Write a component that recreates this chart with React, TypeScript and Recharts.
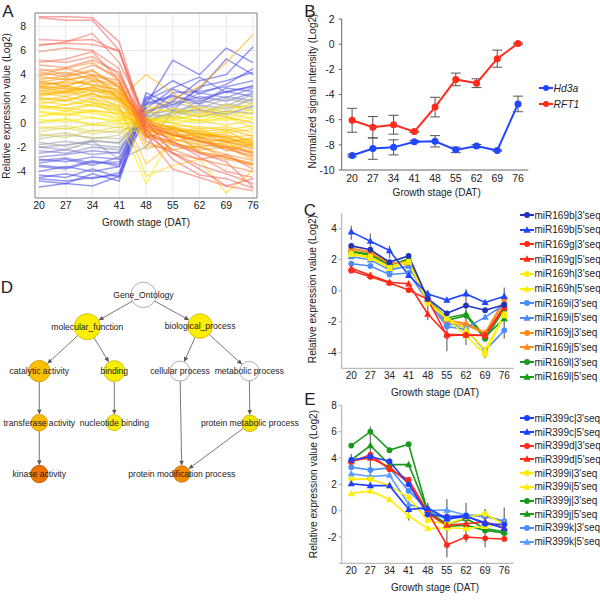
import React from 'react';
import {
  LineChart, Line, XAxis, YAxis, CartesianGrid, ErrorBar,
  ScatterChart, Scatter, ReferenceLine,
} from 'recharts';

const FONT = '"Liberation Sans", Arial, Helvetica, sans-serif';

// ---------- shared categories ----------
const DAT = ['20', '27', '34', '41', '48', '55', '62', '69', '76'];

// ---------- Panel A: expression profiles (Log2) ----------
const profilesA: number[][] = [
  [8.8, 8.8, 8.7, 6.7, -0.5, -3.0, -4.3, -4.6, -5.4],
  [8.7, 8.5, 8.5, 6.0, -1.0, -2.5, -3.8, -5.2, -4.6],
  [6.9, 6.8, 6.9, 5.9, 0.2, -2.5, -3.5, -4.2, -5.0],
  [6.5, 6.6, 6.5, 6.0, -0.3, -1.5, -2.8, -4.0, -4.5],
  [6.4, 6.7, 7.4, 5.0, 0.5, -1.8, -2.5, -3.2, -5.3],
  [5.9, 6.2, 6.0, 4.5, -1.0, -3.8, -4.5, -5.2, -5.6],
  [5.2, 5.0, 5.5, 4.0, 0.0, -1.0, -1.5, -2.0, -2.5],
  [5.0, 5.3, 5.9, 3.5, -0.6, -2.2, -3.0, -2.6, -3.8],
  [4.8, 4.6, 5.2, 4.2, -0.8, -1.6, -2.4, -2.8, -3.4],
  [4.5, 4.0, 4.8, 3.8, -0.2, -1.0, -1.5, -2.2, -2.7],
  [4.3, 4.5, 4.0, 3.5, -1.5, -2.5, -3.0, -3.5, -4.0],
  [4.2, 3.8, 4.3, 3.0, 0.1, -0.8, -1.2, -1.5, -2.2],
  [4.0, 4.5, 5.0, 3.5, -1.2, -0.5, -2.5, -3.0, -3.5],
  [3.9, 4.2, 3.6, 3.2, -0.9, -1.8, -2.0, -2.6, -3.1],
  [3.8, 3.6, 3.9, 3.3, -0.5, -1.3, -1.8, -2.0, -3.0],
  [3.6, 3.9, 4.4, 2.9, -0.3, -0.9, -1.4, -1.9, -2.4],
  [3.5, 3.0, 3.8, 2.5, 0.3, -0.5, -0.9, -1.2, -1.8],
  [3.4, 3.7, 3.1, 2.7, -1.0, -1.6, -2.2, -2.0, -2.8],
  [3.3, 3.2, 3.5, 3.0, -0.2, -1.1, -0.8, -1.6, -1.3],
  [3.2, 3.4, 3.2, 2.8, -0.3, -1.0, -1.3, -1.6, -1.9],
  [3.1, 2.8, 2.9, 2.4, -1.8, -2.2, -1.9, -2.9, -3.3],
  [3.0, 2.5, 3.5, 2.0, 0.0, -0.6, -1.0, -1.0, -1.5],
  [2.9, 3.1, 2.6, 2.6, -0.7, -0.4, -1.2, -1.1, -2.0],
  [2.8, 3.0, 2.7, 2.2, -0.4, -0.9, -1.5, -1.8, -2.4],
  [2.7, 2.4, 3.0, 2.3, -1.2, -1.5, -1.1, -2.3, -1.7],
  [2.6, 2.9, 2.4, 1.9, -0.1, -0.3, -0.7, -0.5, -1.1],
  [2.5, 2.2, 2.8, 1.8, 0.2, -0.4, -0.8, -1.2, -1.0],
  [2.4, 2.7, 2.2, 2.1, -2.2, -1.3, -2.0, -1.6, -2.6],
  [2.2, 2.6, 2.0, 1.5, -0.1, -0.7, -0.6, -1.4, -1.6],
  [2.1, 1.9, 2.4, 1.7, -0.6, -1.0, -1.7, -1.3, -2.1],
  [2.0, 1.8, 2.5, 1.2, -0.8, -0.3, -1.2, -0.8, -0.5],
  [1.9, 2.2, 1.7, 1.4, -3.4, -1.6, -2.4, -2.8, -3.5],
  [1.8, 1.5, 2.0, 1.0, 0.3, 0.0, -0.5, -0.3, -0.8],
  [1.6, 1.9, 1.4, 1.1, -1.1, -0.8, -0.4, -1.5, -1.2],
  [1.5, 1.2, 1.0, 0.8, -0.3, -0.2, -0.3, -0.6, -0.2],
  [1.3, 1.0, 1.5, 0.9, 0.8, 1.2, 0.6, 1.5, 1.0],
  [1.2, 1.5, 1.8, 0.5, 0.2, 0.5, 0.2, -0.2, 0.3],
  [1.0, 0.7, 1.1, 0.7, -0.6, -1.2, -0.9, -0.7, -1.6],
  [0.9, 0.6, 1.0, 0.4, -0.5, 0.3, 0.0, 0.5, -0.4],
  [0.6, 0.8, 0.4, 0.2, 0.4, 0.0, 0.3, 0.2, 0.5],
  [0.5, 1.0, 0.8, 0.3, -5.0, -1.0, -1.5, -2.0, -1.5],
  [0.3, 0.1, 0.5, 0.0, -0.2, 0.4, 0.6, 0.3, 0.9],
  [0.1, 0.4, -0.1, 0.2, 1.4, 0.9, 1.3, 0.8, 1.7],
  [0.0, 0.3, -0.2, -0.1, 0.1, 0.6, 0.2, 0.8, 0.4],
  [-0.3, -0.5, -0.1, -0.4, 0.5, 0.2, 0.8, 0.5, 1.2],
  [-0.5, -0.2, -0.7, -0.3, -0.9, -0.4, -1.1, -0.6, -1.8],
  [2.3, 2.6, 3.0, 2.0, 4.0, 2.5, 1.0, 0.5, 0.0],
  [3.0, 3.5, 4.0, 2.0, 1.0, 2.0, 3.0, 5.0, 7.3],
  [1.4, 1.2, 1.6, 1.3, -4.4, -3.5, -3.0, -5.8, -3.9],
  [-0.7, -0.4, -0.9, -0.6, -0.1, 0.9, 0.5, 1.0, 0.7],
  [-0.9, -1.2, -0.6, -0.8, 0.2, 0.8, 1.0, 1.2, 1.5],
  [-1.1, -0.8, -1.3, -1.0, 1.0, 0.4, 1.4, 0.9, 2.1],
  [-1.3, -1.0, -1.2, -1.3, 0.5, 1.2, 0.8, 1.6, 1.2],
  [-1.6, -1.9, -1.4, -1.7, 0.9, 1.7, 1.2, 2.0, 1.6],
  [-1.8, -1.5, -1.8, -2.0, 0.6, 0.6, 1.9, 1.4, 2.4],
  [-2.0, -1.8, -1.5, -1.6, 0.8, 1.0, 1.5, 1.2, 2.0],
  [-2.0, -2.2, -1.5, -3.0, -2.0, 1.0, 0.5, 1.0, 0.8],
  [-2.3, -2.5, -2.0, -2.2, 0.3, 1.8, 1.6, 2.2, 1.8],
  [-2.5, -2.2, -2.6, -2.4, 1.8, 1.3, 2.5, 2.1, 2.9],
  [-2.8, -2.6, -2.3, -2.5, 1.0, 1.5, 2.2, 1.8, 2.5],
  [-3.0, -3.2, -2.8, -3.0, 1.5, 2.2, 1.8, 2.6, 2.2],
  [-3.1, -2.9, -3.3, -3.2, 0.2, 0.9, 1.1, 0.7, 1.4],
  [-3.3, -3.0, -3.5, -2.8, 0.6, 2.5, 2.6, 3.0, 3.5],
  [-3.5, -3.7, -3.1, -3.6, 1.9, 2.9, 3.8, 2.5, 3.1],
  [-3.6, -3.8, -3.2, -3.4, 2.2, 1.0, 3.0, 3.5, 4.2],
  [-4.0, -3.6, -4.0, -3.6, 1.2, 2.8, 2.0, 2.6, 3.0],
  [-4.3, -4.5, -3.8, -4.5, 0.8, 1.8, 3.5, 4.0, 6.3],
  [-4.5, -4.2, -4.6, -4.1, 1.6, 2.3, 1.6, 2.9, 2.6],
  [-4.6, -4.8, -4.5, -4.3, 2.5, 1.5, 2.8, 5.3, 4.0],
  [-4.8, -5.0, -4.2, -4.8, 2.0, 3.5, 2.4, 3.2, 4.5],
  [-5.3, -5.0, -5.2, -4.4, 1.5, 5.2, 4.0, 6.2, 5.0],
];
const ticksA = [-4, -2, 0, 2, 4, 6, 8];

// ---------- Panel B ----------
const hd3a = [-8.85, -8.3, -8.2, -7.75, -7.72, -8.4, -8.1, -8.45, -4.75];
const hd3aErr = [0.1, 0.85, 0.6, 0.08, 0.45, 0.22, 0.12, 0.05, 0.62];
const rft1 = [-6.05, -6.6, -6.4, -6.95, -5.0, -2.8, -3.1, -1.15, 0.05];
const rft1Err = [0.95, 0.85, 0.75, 0.05, 0.78, 0.5, 0.35, 0.68, 0.05];
const ticksB = [-10, -8, -6, -4, -2, 0, 2];

// ---------- Panel C ----------
const miR169b3 = [2.9, 2.65, 1.85, 2.25, -0.5, -1.45, -0.95, -1.25, -0.9];
const miR169b5 = [3.8, 3.2, 2.6, 1.0, -0.2, -0.6, -0.2, -0.75, -0.35];
const miR169g3 = [1.3, 0.9, 0.5, 0.05, -0.55, -2.9, -2.85, -2.85, -1.0];
const miR169g5 = [1.45, 1.0, 0.55, 0.45, -1.5, -2.8, -2.85, -2.9, -1.1];
const miR169h3 = [2.4, 2.2, 1.5, 1.9, -0.8, -1.8, -2.9, -4.1, -1.5];
const miR169h5 = [2.35, 2.1, 1.45, 1.85, -0.7, -1.75, -2.5, -3.8, -1.6];
const miR169i3 = [1.75, 1.6, 1.05, 1.15, -0.7, -2.3, -2.5, -3.85, -2.55];
const miR169i5 = [2.2, 2.0, 1.35, 1.6, -0.5, -2.1, -2.4, -1.7, -0.9];
const miR169j3 = [2.75, 2.5, 1.8, 1.7, -0.6, -2.1, -2.2, -2.75, -0.55];
const miR169j5 = [2.7, 2.45, 1.75, 1.9, -0.55, -1.9, -2.1, -2.7, -0.7];
const miR169l3 = [2.55, 2.35, 1.7, 2.0, -0.6, -1.9, -1.6, -3.1, -1.2];
const miR169l5 = [2.5, 2.3, 1.65, 2.05, -0.55, -1.75, -1.5, -2.95, -1.8];
const errMidC = [3.75, 3.2, 2.5, 1.9, -0.93, -2.9, -1.7, -4.1, -1.43];
const errC = [0.45, 0.5, 0.4, 0.3, 0.97, 1.0, 1.8, 0.25, 1.65];
const ticksC = [-4, -2, 0, 2, 4];

// ---------- Panel E ----------
const miR399c3 = [3.85, 4.1, 3.75, 2.0, -0.3, -0.45, -0.4, -1.0, -1.05];
const miR399c5 = [2.05, 1.9, 1.9, 0.1, 0.2, -0.6, -0.45, -0.9, -1.35];
const miR399d3 = [3.7, 4.25, 3.15, 2.35, -0.1, -2.6, -2.0, -2.1, -2.15];
const miR399d5 = [3.8, 4.0, 3.3, 2.1, -0.2, -1.1, -1.0, -0.85, -1.3];
const miR399i3 = [2.4, 2.4, 1.9, 1.0, -0.75, -1.05, -0.5, -0.25, -1.05];
const miR399i5 = [1.3, 1.5, 0.85, -0.4, -1.35, -1.3, -1.35, -1.2, -1.0];
const miR399j3 = [4.95, 6.0, 4.6, 5.05, -0.1, -1.2, -1.1, -1.5, -1.7];
const miR399j5 = [3.85, 4.95, 3.5, 3.5, 0.0, -1.05, -0.6, -1.35, -1.6];
const miR399k3 = [3.3, 3.1, 3.25, 1.5, 0.1, -0.7, -0.35, -0.45, -0.8];
const miR399k5 = [2.8, 2.6, 2.7, 0.5, 0.0, 0.05, -0.35, -0.35, -0.85];
const errMidE = [3.9, 3.85, 3.7, -0.25, 0.05, -1.33, -0.9, -1.33, -0.9];
const errE = [0.4, 2.55, 0.3, 0.5, 0.55, 2.22, 1.5, 1.45, 1.15];
const ticksE = [-4, -2, 0, 2, 4, 6, 8];

// ---------- Panel D: GO graph (layout units) ----------
const goNodes = [
  { name: 'Gene_Ontology', x: 47.8, y: 8.3 },
  { name: 'molecular_function', x: 29.1, y: 18.9 },
  { name: 'biological_process', x: 66.7, y: 18.7 },
  { name: 'catalytic activity', x: 13.1, y: 33.7 },
  { name: 'binding', x: 38.1, y: 33.7 },
  { name: 'cellular process', x: 60.0, y: 33.7 },
  { name: 'metabolic process', x: 83.1, y: 33.7 },
  { name: 'transferase activity', x: 13.1, y: 50.9 },
  { name: 'nucleotide binding', x: 38.1, y: 50.9 },
  { name: 'protein metabolic process', x: 83.3, y: 51.1 },
  { name: 'kinase activity', x: 13.1, y: 68.0 },
  { name: 'protein modification process', x: 60.6, y: 68.0 },
];
const goEdges: [string, string][] = [
  ['Gene_Ontology', 'molecular_function'],
  ['Gene_Ontology', 'biological_process'],
  ['molecular_function', 'catalytic activity'],
  ['molecular_function', 'binding'],
  ['biological_process', 'cellular process'],
  ['biological_process', 'metabolic process'],
  ['catalytic activity', 'transferase activity'],
  ['binding', 'nucleotide binding'],
  ['transferase activity', 'kinase activity'],
  ['metabolic process', 'protein metabolic process'],
  ['cellular process', 'protein modification process'],
  ['protein metabolic process', 'protein modification process'],
];

// ---------- styles ----------
const nodeStyle: Record<string, { r: number; fill: string; stroke: string }> = {
  'Gene_Ontology': { r: 12.7, fill: '#ffffff', stroke: '#999' },
  'molecular_function': { r: 13, fill: '#fbee00', stroke: '#c9b800' },
  'biological_process': { r: 12.3, fill: '#fbee00', stroke: '#c9b800' },
  'catalytic activity': { r: 10.7, fill: '#fcc000', stroke: '#c99400' },
  'binding': { r: 10.5, fill: '#f8ec00', stroke: '#c9b800' },
  'cellular process': { r: 10, fill: '#ffffff', stroke: '#999' },
  'metabolic process': { r: 9.7, fill: '#ffffff', stroke: '#999' },
  'transferase activity': { r: 8.3, fill: '#fbba00', stroke: '#c99000' },
  'nucleotide binding': { r: 8, fill: '#f6ea10', stroke: '#c9b800' },
  'protein metabolic process': { r: 8.3, fill: '#f2e200', stroke: '#c0b000' },
  'kinase activity': { r: 8.7, fill: '#ee7200', stroke: '#b85800' },
  'protein modification process': { r: 8.3, fill: '#f18a00', stroke: '#c06c00' },
};

const BLUE = '#2046ff';
const NAVY = '#2233bb';
const RED = '#ff2a1a';
const YEL = '#ffee00';
const LBLUE = '#4d8cff';
const ORANGE = '#ff8c1a';
const GREEN = '#1a9a1a';

type Series = { key: string; name: string; values: number[]; color: string; marker: 'circle' | 'tri' };

const seriesC: Series[] = [
  { key: 'b3', name: "miR169b|3'seq", values: miR169b3, color: NAVY, marker: 'circle' },
  { key: 'b5', name: "miR169b|5'seq", values: miR169b5, color: BLUE, marker: 'tri' },
  { key: 'g3', name: "miR169g|3'seq", values: miR169g3, color: RED, marker: 'circle' },
  { key: 'g5', name: "miR169g|5'seq", values: miR169g5, color: RED, marker: 'tri' },
  { key: 'h3', name: "miR169h|3'seq", values: miR169h3, color: YEL, marker: 'circle' },
  { key: 'h5', name: "miR169h|5'seq", values: miR169h5, color: YEL, marker: 'tri' },
  { key: 'i3', name: "miR169i|3'seq", values: miR169i3, color: LBLUE, marker: 'circle' },
  { key: 'i5', name: "miR169i|5'seq", values: miR169i5, color: LBLUE, marker: 'tri' },
  { key: 'j3', name: "miR169j|3'seq", values: miR169j3, color: ORANGE, marker: 'circle' },
  { key: 'j5', name: "miR169j|5'seq", values: miR169j5, color: ORANGE, marker: 'tri' },
  { key: 'l3', name: "miR169l|3'seq", values: miR169l3, color: GREEN, marker: 'circle' },
  { key: 'l5', name: "miR169l|5'seq", values: miR169l5, color: GREEN, marker: 'tri' },
];

const seriesE: Series[] = [
  { key: 'c3', name: "miR399c|3'seq", values: miR399c3, color: '#1f3fff', marker: 'circle' },
  { key: 'c5', name: "miR399c|5'seq", values: miR399c5, color: '#1f3fff', marker: 'tri' },
  { key: 'd3', name: "miR399d|3'seq", values: miR399d3, color: RED, marker: 'circle' },
  { key: 'd5', name: "miR399d|5'seq", values: miR399d5, color: RED, marker: 'tri' },
  { key: 'i3', name: "miR399i|3'seq", values: miR399i3, color: YEL, marker: 'circle' },
  { key: 'i5', name: "miR399i|5'seq", values: miR399i5, color: YEL, marker: 'tri' },
  { key: 'j3', name: "miR399j|3'seq", values: miR399j3, color: GREEN, marker: 'circle' },
  { key: 'j5', name: "miR399j|5'seq", values: miR399j5, color: GREEN, marker: 'tri' },
  { key: 'k3', name: "miR399k|3'seq", values: miR399k3, color: LBLUE, marker: 'circle' },
  { key: 'k5', name: "miR399k|5'seq", values: miR399k5, color: '#5a9cff', marker: 'tri' },
];

// ---------- tables built from arrays ----------
const rowsA = DAT.map((d, i) => {
  const r: Record<string, any> = { dat: d };
  profilesA.forEach((p, k) => { r['s' + k] = p[i]; });
  return r;
});
const rowsB = DAT.map((d, i) => ({ dat: d, hd3a: hd3a[i], hd3aErr: hd3aErr[i], rft1: rft1[i], rft1Err: rft1Err[i] }));
const buildRows = (series: Series[], mid: number[], err: number[]) =>
  DAT.map((d, i) => {
    const r: Record<string, any> = { dat: d, mid: mid[i], err: err[i] };
    series.forEach((s) => { r[s.key] = s.values[i]; });
    return r;
  });
const rowsC = buildRows(seriesC, errMidC, errC);
const rowsE = buildRows(seriesE, errMidE, errE);

// ---------- helpers ----------
function colorA(v: number): string {
  const stops: [number, number[]][] = [
    [-5, [60, 60, 235]], [-3, [90, 90, 228]], [-1.8, [150, 150, 175]], [-0.8, [214, 206, 80]],
    [0.5, [255, 236, 0]], [2, [255, 196, 0]], [3.5, [255, 155, 0]], [5, [248, 110, 80]], [9, [242, 90, 90]],
  ];
  if (v <= stops[0][0]) return `rgb(${stops[0][1].join(',')})`;
  for (let i = 1; i < stops.length; i++) {
    if (v <= stops[i][0]) {
      const [v0, c0] = stops[i - 1];
      const [v1, c1] = stops[i];
      const t = (v - v0) / (v1 - v0);
      const c = c0.map((x, j) => Math.round(x + (c1[j] - x) * t));
      return `rgb(${c.join(',')})`;
    }
  }
  return `rgb(${stops[stops.length - 1][1].join(',')})`;
}

// drawing order for panel A: blue first, warm colours on top
const orderA = profilesA.map((p, k) => k).sort((a, b) => profilesA[a][0] - profilesA[b][0]);

const triDot = (color: string, s = 3.8) => (props: any) => {
  const { cx, cy, index } = props;
  if (cx == null || cy == null) return <g key={`t${index}`} />;
  return (
    <polygon
      key={`t${index}`}
      points={`${cx},${cy - s} ${cx - s * 0.95},${cy + s * 0.7} ${cx + s * 0.95},${cy + s * 0.7}`}
      fill={color}
    />
  );
};

const markerFor = (s: Series) =>
  s.marker === 'circle' ? { r: 2.9, fill: s.color, stroke: s.color, strokeWidth: 0 } : triDot(s.color);

const Txt = ({ x, y, size = 10, rot = false, italic = false, children }: any) => (
  <div
    style={{
      position: 'absolute', left: x, top: y,
      transform: `translate(-50%, -50%)${rot ? ' rotate(-90deg)' : ''}`,
      fontSize: size, fontFamily: FONT, whiteSpace: 'nowrap', color: '#222',
      lineHeight: 1, fontStyle: italic ? 'italic' : 'normal',
    }}
  >
    {children}
  </div>
);

const LegendIcon = ({ color, marker }: { color: string; marker: 'circle' | 'tri' }) => (
  <svg width={14} height={10} style={{ display: 'block', flex: 'none' }}>
    <line x1={0} y1={5} x2={14} y2={5} stroke={color} strokeWidth={2} />
    {marker === 'circle' ? (
      <circle cx={7} cy={5} r={3} fill={color} />
    ) : (
      <polygon points="7,1.2 3.4,7.8 10.6,7.8" fill={color} />
    )}
  </svg>
);

const Legend = ({ items, left, top, step, size = 10, italic = false }: any) => (
  <>
    {items.map((it: any, i: number) => (
      <div
        key={it.name}
        style={{
          position: 'absolute', left, top: top + i * step - 6, height: 12,
          display: 'flex', alignItems: 'center', fontFamily: FONT, fontSize: size,
          color: '#222', whiteSpace: 'nowrap', fontStyle: italic ? 'italic' : 'normal',
        }}
      >
        <LegendIcon color={it.color} marker={it.marker} />
        <span style={{ marginLeft: 1 }}>{it.name}</span>
      </div>
    ))}
  </>
);

const NodeShape = (props: any) => {
  const { cx, cy, payload } = props;
  const st = nodeStyle[payload.name];
  return (
    <g>
      <circle cx={cx} cy={cy} r={st.r} fill={st.fill} stroke={st.stroke} strokeWidth={0.8} />
      <text x={cx} y={cy} textAnchor="middle" dominantBaseline="central" fontSize={8.6} fontFamily={FONT} fill="#222">
        {payload.name}
      </text>
    </g>
  );
};

const arrowShape = (r1: number, r2: number) => (p: any) => {
  const { x1, y1, x2, y2 } = p;
  const dx = x2 - x1;
  const dy = y2 - y1;
  const L = Math.hypot(dx, dy) || 1;
  const ux = dx / L;
  const uy = dy / L;
  const sx = x1 + ux * r1;
  const sy = y1 + uy * r1;
  const ex = x2 - ux * r2;
  const ey = y2 - uy * r2;
  const hl = 5;
  const hw = 2.2;
  const bx = ex - ux * hl;
  const by = ey - uy * hl;
  return (
    <g>
      <line x1={sx} y1={sy} x2={bx} y2={by} stroke="#555" strokeWidth={0.8} />
      <polygon points={`${ex},${ey} ${bx - uy * hw},${by + ux * hw} ${bx + uy * hw},${by - ux * hw}`} fill="#555" />
    </g>
  );
};

const nodeByName: Record<string, { name: string; x: number; y: number }> = {};
goNodes.forEach((n) => { nodeByName[n.name] = n; });

const tickStyle = (size: number) => ({ fontSize: size, fill: '#222', fontFamily: FONT });

// ---------- panels ----------
const PanelA = () => (
  <LineChart width={300} height={232} data={rowsA} margin={{ top: 12, right: 42, bottom: 0, left: 0 }}>
    <CartesianGrid stroke="#e3e3e3" strokeWidth={0.8} />
    <XAxis dataKey="dat" padding={{ left: 4, right: 4 }} height={34} tickLine={false} tickSize={2} tickMargin={2}
      axisLine={{ stroke: '#8a8a8a' }} tick={tickStyle(10.5)} interval={0} />
    <XAxis xAxisId="top" dataKey="dat" orientation="top" height={1} tick={false} tickLine={false}
      padding={{ left: 4, right: 4 }} axisLine={{ stroke: '#8a8a8a' }} />
    <YAxis domain={[-6.2, 9.1]} ticks={ticksA} width={35} tickLine={false} tickSize={6} tickMargin={3}
      axisLine={{ stroke: '#8a8a8a' }} tick={tickStyle(10.5)} interval={0} allowDataOverflow />
    <YAxis yAxisId="right" orientation="right" width={1} domain={[0, 1]} tick={false} tickLine={false}
      axisLine={{ stroke: '#8a8a8a' }} />
    {orderA.map((k) => (
      <Line key={k} dataKey={'s' + k} stroke={colorA(profilesA[k][0])} strokeWidth={1.5} strokeOpacity={0.55}
        dot={false} activeDot={false} isAnimationActive={false} />
    ))}
  </LineChart>
);

const PanelB = () => (
  <LineChart width={300} height={200} data={rowsB} margin={{ top: 19, right: 71.6, bottom: 0, left: 0 }}>
    <XAxis dataKey="dat" padding={{ left: 10.4, right: 10.4 }} height={30} tickLine={false} tickSize={3} tickMargin={2}
      axisLine={{ stroke: '#666' }} tick={tickStyle(10.5)} interval={0} />
    <YAxis domain={[-10, 2]} ticks={ticksB} width={41.7} tickSize={3} tickMargin={4}
      axisLine={{ stroke: '#666' }} tickLine={{ stroke: '#666' }} tick={tickStyle(10.5)} interval={0} />
    <Line dataKey="hd3a" name="Hd3a" stroke={BLUE} strokeWidth={2} dot={{ r: 3.5, fill: BLUE, stroke: BLUE, strokeWidth: 0 }}
      activeDot={false} isAnimationActive={false}>
      <ErrorBar dataKey="hd3aErr" width={5} stroke="#555" strokeWidth={1} direction="y" />
    </Line>
    <Line dataKey="rft1" name="RFT1" stroke={RED} strokeWidth={2} dot={{ r: 3.5, fill: RED, stroke: RED, strokeWidth: 0 }}
      activeDot={false} isAnimationActive={false}>
      <ErrorBar dataKey="rft1Err" width={5} stroke="#555" strokeWidth={1} direction="y" />
    </Line>
  </LineChart>
);

const MirPanel = ({ rows, series, domain, ticks, top, xh, hideLow }: any) => (
  <LineChart width={300} height={200} data={rows} margin={{ top, right: 86.2, bottom: 0, left: 0 }}>
    <XAxis dataKey="dat" padding={{ left: 9.56, right: 9.56 }} height={xh} tickLine={false} tickSize={2} tickMargin={2}
      axisLine={{ stroke: '#aaa' }} tick={tickStyle(10)} interval={0} />
    <YAxis domain={domain} ticks={ticks} width={41.7} tickSize={3} tickMargin={2}
      axisLine={{ stroke: '#aaa' }} tickLine={{ stroke: '#aaa' }} tick={tickStyle(10)} interval={0}
      tickFormatter={(v: number) => (hideLow !== undefined && v === hideLow ? '' : String(v))} />
    <Line dataKey="mid" stroke="none" dot={false} activeDot={false} legendType="none" isAnimationActive={false}>
      <ErrorBar dataKey="err" width={0} stroke="#777" strokeWidth={1.3} direction="y" />
    </Line>
    {[...series].reverse().map((s: Series) => (
      <Line key={s.key} dataKey={s.key} name={s.name} stroke={s.color} strokeWidth={1.6}
        dot={markerFor(s) as any} activeDot={false} isAnimationActive={false} />
    ))}
  </LineChart>
);

const PanelD = () => (
  <ScatterChart width={300} height={270} margin={{ top: 0, right: 0, bottom: 0, left: 0 }}>
    <XAxis type="number" dataKey="x" domain={[0, 100]} hide />
    <YAxis type="number" dataKey="y" domain={[0, 90]} reversed hide />
    {goEdges.map(([a, b], i) => {
      const A = nodeByName[a];
      const B = nodeByName[b];
      return (
        <ReferenceLine key={i} segment={[{ x: A.x, y: A.y }, { x: B.x, y: B.y }]} ifOverflow="visible"
          shape={arrowShape(nodeStyle[a].r, nodeStyle[b].r) as any} />
      );
    })}
    <Scatter data={goNodes} shape={NodeShape} isAnimationActive={false} />
  </ScatterChart>
);

export default function App() {
  return (
    <div style={{ position: 'absolute', left: 0, top: 0, width: 600, height: 600, background: '#fff', overflow: 'hidden', fontFamily: FONT }}>
      <div style={{ position: 'absolute', left: 0, top: 0 }}><PanelA /></div>
      <div style={{ position: 'absolute', left: 300, top: 0 }}><PanelB /></div>
      <div style={{ position: 'absolute', left: 300, top: 200 }}>
        <MirPanel rows={rowsC} series={seriesC} domain={[-5, 5]} ticks={ticksC} top={13.3} xh={31.7} />
      </div>
      <div style={{ position: 'absolute', left: 300, top: 400 }}>
        <MirPanel rows={rowsE} series={seriesE} domain={[-4, 8]} ticks={ticksE} top={5.4} xh={36.7} hideLow={-4} />
      </div>
      <div style={{ position: 'absolute', left: 0, top: 270 }}><PanelD /></div>

      {/* panel letters */}
      <Txt x={8} y={11} size={17}>A</Txt>
      <Txt x={310} y={11} size={17}>B</Txt>
      <Txt x={310} y={210} size={17}>C</Txt>
      <Txt x={7} y={286.5} size={17}>D</Txt>
      <Txt x={310} y={399} size={17}>E</Txt>

      {/* axis titles */}
      <Txt x={7} y={105.5} size={10} rot>Relative expression value (Log2)</Txt>
      <Txt x={146} y={223.3} size={10}>Growth stage (DAT)</Txt>
      <Txt x={313.3} y={90.8} size={10.3} rot>Normalized signal intensity (Log2)</Txt>
      <Txt x={436.7} y={193} size={10}>Growth stage (DAT)</Txt>
      <Txt x={313.3} y={289} size={10.2} rot>Relative expression value (Log2)</Txt>
      <Txt x={435} y={392.7} size={10}>Growth stage (DAT)</Txt>
      <Txt x={314} y={484} size={10.2} rot>Relative expression value (Log2)</Txt>
      <Txt x={435} y={588.3} size={10}>Growth stage (DAT)</Txt>

      {/* legends */}
      <Legend items={[{ name: 'Hd3a', color: BLUE, marker: 'circle' }, { name: 'RFT1', color: RED, marker: 'circle' }]}
        left={538.5} top={88} step={16} size={10.3} italic />
      <Legend items={seriesC} left={519.5} top={215} step={14.7} size={10} />
      <Legend items={seriesE} left={519.5} top={418.3} step={13.7} size={10} />
    </div>
  );
}
